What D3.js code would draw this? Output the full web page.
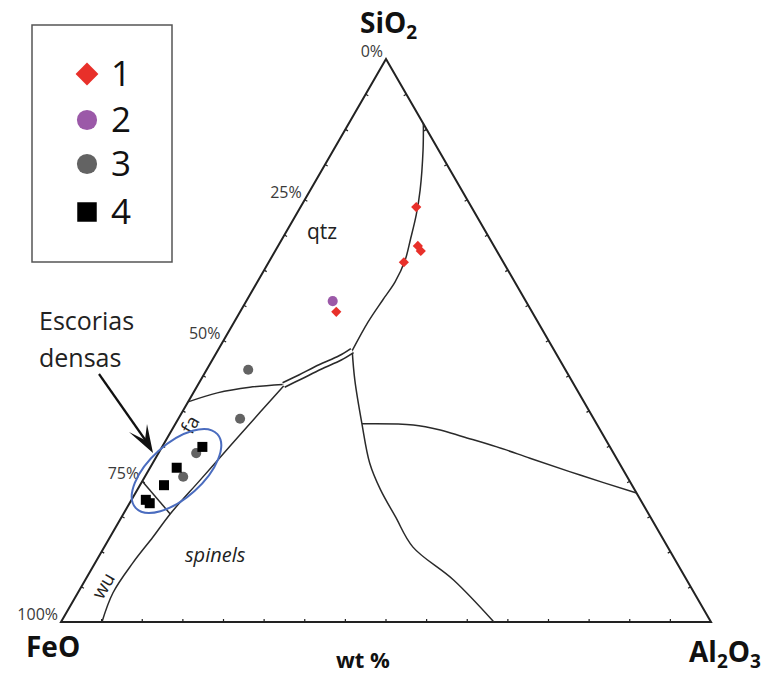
<!DOCTYPE html>
<meta charset="utf-8">
<script src="https://d3js.org/d3.v7.min.js"></script>
<style>
  body { margin: 0; background: #fff; }
  text { font-family: "Open Sans", sans-serif; }
</style>
<div id="viz"></div>
<script>

// composition in wt %: [SiO2, FeO, Al2O3]
var series1 = [[73.7, 8.5, 17.8], [66.8, 11.7, 21.5], [65.9, 11.7, 22.4], [63.9, 15.3, 20.8], [55.1, 30.1, 14.8]];
var series2 = [[57.0, 29.7, 13.3]];
var series3 = [[44.8, 48.8, 6.4], [36.1, 54.4, 9.5], [30.0, 64.2, 5.8], [25.8, 68.3, 5.9]];
var series4 = [[31.1, 62.7, 6.2], [27.4, 68.5, 4.1], [24.3, 72.0, 3.7], [21.7, 76.1, 2.2], [21.1, 75.8, 3.1]];

var legendLabels = ["1", "2", "3", "4"];
var edgeTicks = ["0%", "25%", "50%", "75%", "100%"];

// phase boundaries: [SiO2, Al2O3] (FeO is the rest)
var qtzBoundary = [[88.5, 11.5], [83.8, 13.8], [76.7, 16.9], [72.3, 18.5], [67.9, 19.8], [64.3, 20.8], [60.4, 21.2], [57.2, 20.9], [53.3, 20.6], [48.2, 20.7]];
var doubleBoundary = [[42.1, 13.2], [43.5, 15.0], [45.3, 17.2], [46.9, 19.5], [48.2, 20.7]];
var faUpper = [[39.1, 0], [40.7, 3.7], [41.7, 8.2], [42.2, 13.0]];
var spinelBoundary = [[0, 6.3], [5.2, 5.4], [10.5, 5.8], [15.1, 6.6], [19.2, 7.2], [25.2, 8.8], [31.3, 10.4], [37.3, 12.0], [41.9, 13.3]];
var wuFa = [[25.0, 0], [19.2, 7.2]];
var hercBoundary = [[48.2, 20.7], [43.0, 23.7], [35.2, 28.7], [28.2, 33.4], [23.5, 37.4], [18.7, 42.1], [13.3, 47.5], [7.5, 56.6], [0, 66.6]];
var mulBoundary = [[35.2, 28.7], [35.0, 36.7], [34.1, 41.3], [32.9, 45.4], [31.1, 51.5], [29.1, 57.6], [26.1, 66.8], [22.9, 77.1]];

var width = 777, height = 677;

var svg = d3.select("#viz")
  .append("svg")
    .attr("width", width)
    .attr("height", height);

var x = d3.scaleLinear().domain([0, 100]).range([61, 711]);
var y = d3.scaleLinear().domain([0, 100]).range([622, 59]);

// ternary -> screen
function proj(s, a) { return [x(a + s / 2), y(s)]; }

var line = d3.line().curve(d3.curveCatmullRom);

// frame
var apex = proj(100, 0), feo = proj(0, 0), al = proj(0, 100);
svg.append("path")
  .attr("d", "M" + apex + "L" + feo + "L" + al + "Z")
  .attr("fill", "none")
  .attr("stroke", "#222")
  .attr("stroke-width", 2)
  .attr("stroke-linejoin", "miter");

// small ticks every 6.25 %
var tk = d3.range(1, 16).map(function(i) { return i * 6.25; });
tk.forEach(function(t) {
  var p = proj(0, t);
  svg.append("line").attr("x1", p[0]).attr("x2", p[0]).attr("y1", p[1]).attr("y2", p[1] - 3)
    .attr("stroke", "#222").attr("stroke-width", 1.2);
  var q = proj(t, 0);
  svg.append("line").attr("x1", q[0]).attr("x2", q[0] + 2.6).attr("y1", q[1]).attr("y2", q[1] + 1.5)
    .attr("stroke", "#222").attr("stroke-width", 1.2);
  var r = proj(t, 100 - t);
  svg.append("line").attr("x1", r[0]).attr("x2", r[0] - 2.6).attr("y1", r[1]).attr("y2", r[1] + 1.5)
    .attr("stroke", "#222").attr("stroke-width", 1.2);
});

// FeO % labels on left edge
edgeTicks.forEach(function(lbl, i) {
  var p = proj(100 - i * 25, 0);
  svg.append("text")
    .attr("x", p[0] - 3)
    .attr("y", p[1] - 2)
    .attr("text-anchor", "end")
    .attr("font-size", 16)
    .attr("fill", "#3a3a3a")
    .text(lbl);
});

// boundaries
function boundary(pts, w) {
  return svg.append("path")
    .attr("d", line(pts.map(function(d) { return proj(d[0], d[1]); })))
    .attr("fill", "none")
    .attr("stroke", "#2a2a2a")
    .attr("stroke-width", w || 1.5);
}
[qtzBoundary, faUpper, spinelBoundary, wuFa, hercBoundary, mulBoundary].forEach(function(b) { boundary(b); });
boundary(doubleBoundary, 6.5).attr("stroke-linecap", "butt");
svg.append("path")
  .attr("d", line(doubleBoundary.map(function(d) { return proj(d[0], d[1]); })))
  .attr("fill", "none")
  .attr("stroke", "#fff")
  .attr("stroke-width", 3.2);

// field labels
svg.append("text").attr("x", 307).attr("y", 239).attr("font-size", 21).attr("fill", "#222").text("qtz");
svg.append("text").attr("x", 185).attr("y", 562).attr("font-size", 20).attr("font-style", "italic").attr("fill", "#222").text("spinels");
svg.append("text").attr("transform", "translate(196,428) rotate(-60)").attr("text-anchor", "middle").attr("font-size", 19).attr("fill", "#222").text("fa");
svg.append("text").attr("transform", "translate(109,589) rotate(-60)").attr("text-anchor", "middle").attr("font-size", 19).attr("fill", "#222").text("wu");

// ellipse
svg.append("ellipse")
  .attr("cx", 0).attr("cy", 0).attr("rx", 55).attr("ry", 27)
  .attr("transform", "translate(176.5,471) rotate(-42)")
  .attr("fill", "none")
  .attr("stroke", "#4a6cbf")
  .attr("stroke-width", 2);

// symbols (diamond = square turned 45 degrees)
function plot(data, shape, size, color, rot) {
  svg.append("g").selectAll("path")
    .data(data)
    .enter()
    .append("path")
      .attr("transform", function(d) {
        var p = proj(d[0], d[2]);
        return "translate(" + p[0] + "," + p[1] + ")" + (rot ? " rotate(45)" : "");
      })
      .attr("d", d3.symbol().type(shape).size(size))
      .attr("fill", color);
}
plot(series3, d3.symbolCircle, 80, "#636363");
plot(series4, d3.symbolSquare, 100, "#000");
plot(series2, d3.symbolCircle, 80, "#9b59a8");
plot(series1, d3.symbolSquare, 52, "#e8302a", true);

// legend
svg.append("rect")
  .attr("x", 32).attr("y", 25).attr("width", 140).attr("height", 237)
  .attr("fill", "none").attr("stroke", "#555").attr("stroke-width", 1.5);
var legShapes = [d3.symbolSquare, d3.symbolCircle, d3.symbolCircle, d3.symbolSquare];
var legSizes = [260, 320, 320, 380];
var legRot = [45, 0, 0, 0];
var legColors = ["#e8302a", "#9b59a8", "#636363", "#000"];
var legY = [74, 120, 164, 212];
legendLabels.forEach(function(l, i) {
  svg.append("path")
    .attr("transform", "translate(87," + legY[i] + ") rotate(" + legRot[i] + ")")
    .attr("d", d3.symbol().type(legShapes[i]).size(legSizes[i]))
    .attr("fill", legColors[i]);
  svg.append("text")
    .attr("x", 111).attr("y", legY[i] + 12)
    .attr("font-size", 35).attr("fill", "#111")
    .text(l);
});

// vertex names
var t1 = svg.append("text").attr("x", 360).attr("y", 33).attr("font-size", 28).attr("font-weight", "bold").attr("fill", "#111");
t1.append("tspan").text("SiO");
t1.append("tspan").attr("font-size", 19).attr("dy", 6).text("2");
svg.append("text").attr("x", 26).attr("y", 657).attr("font-size", 28).attr("font-weight", "bold").attr("fill", "#111").text("FeO");
var t3 = svg.append("text").attr("x", 689).attr("y", 662).attr("font-size", 28).attr("font-weight", "bold").attr("fill", "#111");
t3.append("tspan").text("Al");
t3.append("tspan").attr("font-size", 19).attr("dy", 6).text("2");
t3.append("tspan").attr("dy", -6).text("O");
t3.append("tspan").attr("font-size", 19).attr("dy", 6).text("3");
svg.append("text").attr("x", 336).attr("y", 668).attr("font-size", 22).attr("font-weight", "bold").attr("fill", "#111").text("wt %");

// annotation
svg.append("text").attr("x", 39).attr("y", 330).attr("font-size", 25).attr("fill", "#222").text("Escorias");
svg.append("text").attr("x", 39).attr("y", 367).attr("font-size", 25).attr("fill", "#222").text("densas");
svg.append("line")
  .attr("x1", 99).attr("y1", 374).attr("x2", 146).attr("y2", 441)
  .attr("stroke", "#111").attr("stroke-width", 2.2);
svg.append("path")
  .attr("d", "M153,453 L129,432 L145,440 L147,424 Z")
  .attr("fill", "#111");

</script>
